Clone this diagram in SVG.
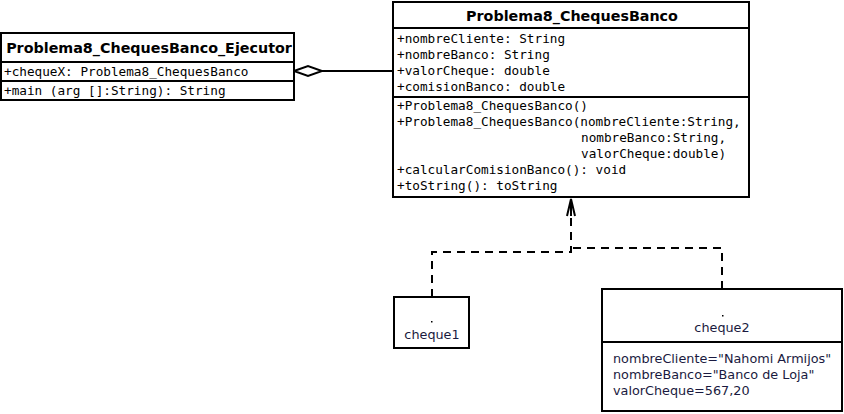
<svg xmlns="http://www.w3.org/2000/svg" width="844" height="414" viewBox="0 0 844 414">
<style>
.box{fill:#fff;stroke:#000;stroke-width:2}
.ln{stroke:#000;stroke-width:2;fill:none}
.dash{stroke:#000;stroke-width:2;fill:none;stroke-dasharray:8,6}
.title{font-family:"DejaVu Sans",sans-serif;font-weight:bold;font-size:14.3px;fill:#000}
.mono{font-family:"DejaVu Sans Mono",monospace;font-size:12.7px;fill:#000}
.obj{font-family:"DejaVu Sans",sans-serif;font-size:12.8px;fill:#1a1a40}
</style>
<rect width="844" height="414" fill="#fff"/>
<g id="connectors">
  <polyline class="ln" points="322,71 393,71"/>
  <polygon points="294,71 308,66 322,71 308,76" fill="#fff" stroke="#000" stroke-width="2"/>
  <polyline class="dash" points="432,297 432,252 571,252 571,204"/>
  <polyline class="dash" points="722,289 722,248 571,248"/>
  <polyline class="ln" points="567,216 571,199 575,216"/>
  <line class="ln" x1="571" y1="199" x2="571" y2="216"/>
</g>
<g id="Problema8_ChequesBanco_Ejecutor">
  <rect class="box" x="1" y="33" width="293" height="67"/>
  <line class="ln" x1="1" y1="62" x2="294" y2="62"/>
  <line class="ln" x1="1" y1="81" x2="294" y2="81"/>
  <text class="title" x="149" y="53" text-anchor="middle">Problema8_ChequesBanco_Ejecutor</text>
  <text class="mono" x="4" y="76">+chequeX: Problema8_ChequesBanco</text>
  <text class="mono" x="4" y="95">+main (arg []:String): String</text>
</g>
<g id="Problema8_ChequesBanco">
  <rect class="box" x="393" y="2" width="356" height="195"/>
  <line class="ln" x1="393" y1="28" x2="749" y2="28"/>
  <line class="ln" x1="393" y1="97" x2="749" y2="97"/>
  <text class="title" x="572" y="21" text-anchor="middle">Problema8_ChequesBanco</text>
  <text class="mono" x="397" y="43">+nombreCliente: String</text>
  <text class="mono" x="397" y="59">+nombreBanco: String</text>
  <text class="mono" x="397" y="75">+valorCheque: double</text>
  <text class="mono" x="397" y="91">+comisionBanco: double</text>
  <text class="mono" x="397" y="110">+Problema8_ChequesBanco()</text>
  <text class="mono" x="397" y="126">+Problema8_ChequesBanco(nombreCliente:String,</text>
  <text class="mono" x="581" y="142">nombreBanco:String,</text>
  <text class="mono" x="581" y="158">valorCheque:double)</text>
  <text class="mono" x="397" y="174">+calcularComisionBanco(): void</text>
  <text class="mono" x="397" y="190">+toString(): toString</text>
</g>
<g id="cheque1">
  <rect class="box" x="394" y="297" width="75" height="51"/>
  <rect x="431" y="321" width="1.5" height="1.5" fill="#000"/>
  <text class="obj" x="432" y="339" text-anchor="middle">cheque1</text>
</g>
<g id="cheque2">
  <rect class="box" x="602" y="289" width="240" height="122"/>
  <line class="ln" x1="602" y1="342" x2="842" y2="342"/>
  <rect x="722" y="315" width="1.5" height="1.5" fill="#000"/>
  <text class="obj" x="722" y="332" text-anchor="middle">cheque2</text>
  <text class="obj" x="613" y="363">nombreCliente="Nahomi Armijos"</text>
  <text class="obj" x="613" y="379">nombreBanco="Banco de Loja"</text>
  <text class="obj" x="613" y="395">valorCheque=567,20</text>
</g>
</svg>
